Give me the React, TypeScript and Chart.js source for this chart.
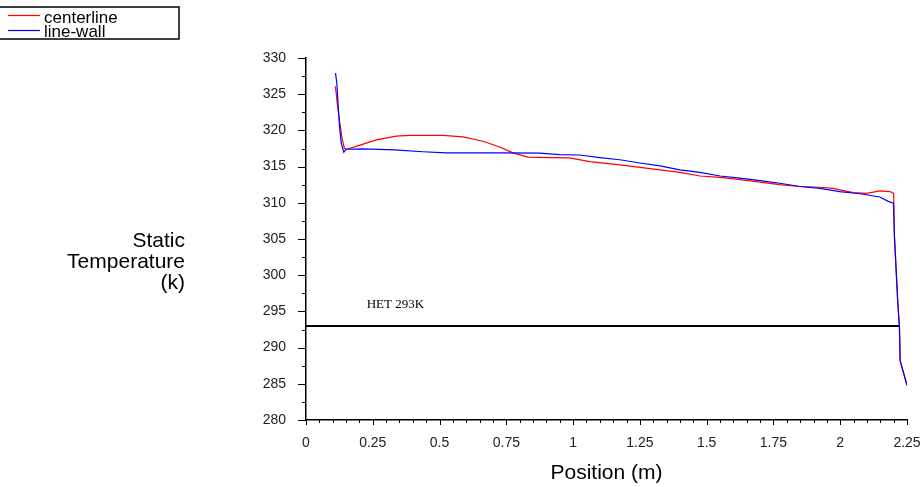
import React, { useEffect, useRef } from "react";
import { Chart, registerables } from "chart.js";

Chart.register(...registerables);

// ---- data ----
const centerlineX = [0.110, 0.119, 0.126, 0.136, 0.144, 0.151, 0.188, 0.263, 0.338, 0.388, 0.513, 0.588, 0.663, 0.725, 0.762, 0.775, 0.831, 0.912, 0.987, 1.062, 1.175, 1.25, 1.325, 1.4, 1.475, 1.55, 1.625, 1.7, 1.774, 1.849, 1.924, 1.974, 2.049, 2.099, 2.148, 2.186, 2.2, 2.203, 2.2094, 2.2157, 2.2217, 2.2243, 2.2344, 2.25];
const centerlineT = [326.1, 323.1, 321.2, 318.7, 317.5, 317.4, 317.8, 318.7, 319.2, 319.3, 319.3, 319.1, 318.5, 317.7, 317.1, 316.9, 316.3, 316.25, 316.2, 315.7, 315.25, 314.9, 314.55, 314.2, 313.7, 313.5, 313.2, 312.85, 312.5, 312.25, 312.15, 312.0, 311.4, 311.3, 311.65, 311.55, 311.3, 305.3, 300.7, 296.1, 292.85, 288.2, 286.85, 284.8];

const wallX = [0.1105, 0.1154, 0.1191, 0.1255, 0.1319, 0.1416, 0.1506, 0.212, 0.332, 0.438, 0.525, 0.725, 0.875, 0.95, 1.025, 1.1, 1.175, 1.25, 1.325, 1.4, 1.475, 1.55, 1.625, 1.7, 1.774, 1.849, 1.924, 1.999, 2.074, 2.148, 2.18, 2.1993, 2.203, 2.2094, 2.2157, 2.2217, 2.2243, 2.2344, 2.25];
const wallT = [327.9, 326.55, 324.25, 320.55, 318.25, 317.0, 317.4, 317.45, 317.3, 317.05, 316.9, 316.9, 316.85, 316.65, 316.6, 316.25, 315.95, 315.5, 315.1, 314.55, 314.2, 313.7, 313.4, 313.05, 312.7, 312.25, 312.0, 311.55, 311.25, 310.8, 310.2, 309.95, 305.3, 300.7, 296.1, 292.85, 288.2, 286.85, 284.8];

const hetX = [0, 2.222];
const hetT = [293, 293];
const hetLabel = "HET 293K";
const hetLabelPos = [0.227, 295.45];

const seriesLabels = ["centerline", "line-wall"];
const seriesColors = ["#ff0000", "#0000ff"];

const xTickValues = [0, 0.25, 0.5, 0.75, 1, 1.25, 1.5, 1.75, 2, 2.25];
const xTickLabels = ["0", "0.25", "0.5", "0.75", "1", "1.25", "1.5", "1.75", "2", "2.25"];
const yTickValues = [280, 285, 290, 295, 300, 305, 310, 315, 320, 325, 330];

const xTitle = "Position (m)";
const yTitleLines = ["Static", "Temperature", "(k)"];

const SANS = "'Liberation Sans', Arial, sans-serif";
const SERIF = "'Liberation Serif', 'Times New Roman', serif";

const decorPlugin = {
  id: "decor",
  afterDraw(chart: any) {
    const ctx = chart.ctx;
    const xs = chart.scales.x;
    const ys = chart.scales.y;
    const area = chart.chartArea;
    ctx.save();
    // ticks
    ctx.strokeStyle = "#000";
    ctx.lineWidth = 1;
    for (let i = 0; i <= 45; i++) {
      const v = i * 0.05;
      const px = Math.round(xs.getPixelForValue(v)) + 0.5;
      const major = i % 5 === 0;
      ctx.beginPath();
      ctx.moveTo(px, area.bottom);
      ctx.lineTo(px, area.bottom + (major ? 5 : 3));
      ctx.stroke();
    }
    for (let i = 0; i <= 20; i++) {
      const v = 280 + i * 2.5;
      const py = Math.round(ys.getPixelForValue(v)) + 0.5;
      const major = i % 2 === 0;
      ctx.beginPath();
      ctx.moveTo(area.left, py);
      ctx.lineTo(area.left - (major ? 8 : 4), py);
      ctx.stroke();
    }
    // HET label
    ctx.fillStyle = "#000";
    ctx.font = `13px ${SERIF}`;
    ctx.textAlign = "left";
    ctx.textBaseline = "alphabetic";
    ctx.fillText(hetLabel, xs.getPixelForValue(hetLabelPos[0]), ys.getPixelForValue(hetLabelPos[1]));
    // x title
    ctx.font = `21px ${SANS}`;
    ctx.textAlign = "center";
    ctx.fillText(xTitle, (area.left + area.right) / 2, 479);
    // y title
    ctx.textAlign = "right";
    const baselines = [247, 268, 289];
    yTitleLines.forEach((t, i) => ctx.fillText(t, 185, baselines[i]));
    // legend
    ctx.lineWidth = 1.5;
    ctx.strokeStyle = "#000";
    ctx.strokeRect(-2, 7, 181, 32);
    ctx.font = `17px ${SANS}`;
    ctx.textAlign = "left";
    const lineYs = [15.5, 30.5];
    const textYs = [22.5, 37];
    for (let i = 0; i < 2; i++) {
      ctx.strokeStyle = seriesColors[i];
      ctx.lineWidth = 1.2;
      ctx.beginPath();
      ctx.moveTo(8, lineYs[i]);
      ctx.lineTo(40, lineYs[i]);
      ctx.stroke();
      ctx.fillStyle = "#000";
      ctx.fillText(seriesLabels[i], 44, textYs[i]);
    }
    ctx.restore();
  },
};

export default function App() {
  const ref = useRef<HTMLCanvasElement>(null);
  useEffect(() => {
    if (!ref.current) return;
    const chart = new Chart(ref.current, {
      type: "line",
      data: {
        datasets: [
          {
            label: seriesLabels[0],
            data: centerlineX.map((x, i) => ({ x, y: centerlineT[i] })),
            borderColor: seriesColors[0],
            borderWidth: 1.2,
            pointRadius: 0,
            tension: 0,
            order: 2,
          },
          {
            label: seriesLabels[1],
            data: wallX.map((x, i) => ({ x, y: wallT[i] })),
            borderColor: seriesColors[1],
            borderWidth: 1.2,
            pointRadius: 0,
            tension: 0,
            order: 1,
          },
          {
            label: hetLabel,
            data: hetX.map((x, i) => ({ x, y: hetT[i] })),
            borderColor: "#000",
            borderWidth: 2,
            pointRadius: 0,
            tension: 0,
            order: 3,
          },
        ],
      },
      options: {
        responsive: false,
        animation: false,
        layout: { padding: { left: 0, top: 58, right: 16, bottom: 0 } },
        plugins: { legend: { display: false }, tooltip: { enabled: false } },
        scales: {
          x: {
            type: "linear",
            min: 0,
            max: 2.25,
            afterFit: (s: any) => {
              s.height = 67;
              s.paddingLeft = 0;
              s.paddingRight = 0;
            },
            afterBuildTicks: (s: any) => { s.ticks = xTickValues.map((v) => ({ value: v })); },
            ticks: {
              padding: 15,
              color: "#222",
              font: { family: SANS, size: 14 },
              maxRotation: 0,
              autoSkip: false,
              callback: (v: any) => {
                const i = xTickValues.findIndex((t) => Math.abs(t - v) < 1e-6);
                return i >= 0 ? xTickLabels[i] : "";
              },
            },
            grid: { drawOnChartArea: false, drawTicks: false },
            border: { display: true, color: "#000", width: 1.5 },
          },
          y: {
            type: "linear",
            min: 280,
            max: 330,
            afterFit: (s: any) => {
              s.width = 306;
              s.paddingTop = 0;
              s.paddingBottom = 0;
            },
            afterBuildTicks: (s: any) => { s.ticks = yTickValues.map((v) => ({ value: v })); },
            ticks: {
              padding: 20,
              color: "#222",
              font: { family: SANS, size: 14 },
              autoSkip: false,
            },
            grid: { drawOnChartArea: false, drawTicks: false },
            border: { display: true, color: "#000", width: 1.5 },
          },
        },
      },
      plugins: [decorPlugin],
    });
    return () => chart.destroy();
  }, []);
  return (
    <div style={{ position: "absolute", left: 0, top: 0, width: 923, height: 487, background: "#fff" }}>
      <canvas ref={ref} width={923} height={487} style={{ display: "block" }} />
    </div>
  );
}
